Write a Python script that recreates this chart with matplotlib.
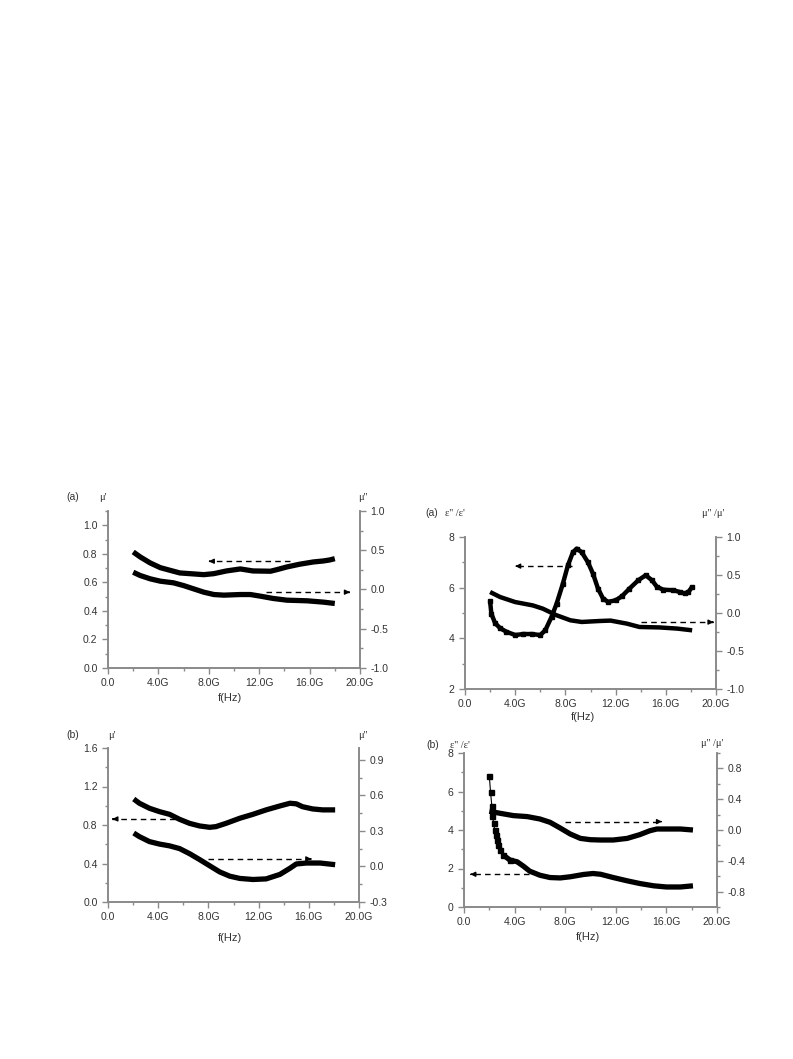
import matplotlib
matplotlib.use("Agg")
import matplotlib.pyplot as plt
from matplotlib.ticker import MultipleLocator, FuncFormatter, FixedLocator

plt.rcParams['font.family'] = ['Liberation Sans', 'DejaVu Sans']
plt.rcParams['lines.solid_joinstyle'] = 'round'
plt.rcParams['lines.solid_capstyle'] = 'butt'

# ---- data (frequency in GHz) ----
# top-left (a): mu' (left axis) and mu'' (right axis)
f_a_mu1 = [2.0, 2.56, 3.35, 4.15, 4.9, 5.7, 6.5, 7.6, 8.4, 9.4, 10.5, 11.5, 12.9, 13.4, 14.2, 15.2, 16.3, 17.1, 17.6, 18.0]
a_mu1 = [0.813, 0.778, 0.736, 0.703, 0.685, 0.666, 0.661, 0.654, 0.661, 0.68, 0.694, 0.68, 0.678, 0.689, 0.708, 0.727, 0.743, 0.75, 0.757, 0.766]
f_a_mu2 = [2.0, 2.56, 3.35, 4.15, 5.2, 6.0, 6.8, 7.6, 8.4, 9.2, 10.5, 11.3, 12.1, 13.1, 14.2, 15.8, 17.1, 18.0]
a_mu2 = [0.22, 0.178, 0.136, 0.106, 0.085, 0.05, 0.008, -0.034, -0.064, -0.072, -0.064, -0.064, -0.085, -0.114, -0.136, -0.144, -0.161, -0.178]

# top-right (a): eps''/eps' (left) and mu''/mu' (right)
f_a_eps = [2.0, 2.1, 2.4, 2.8, 3.3, 4.0, 4.65, 5.3, 6.0, 6.4, 6.9, 7.3, 7.8, 8.2, 8.6, 8.9, 9.3, 9.8, 10.2, 10.6,
           11.0, 11.4, 12.0, 12.5, 13.1, 13.8, 14.4, 14.9, 15.3, 15.8, 16.6, 17.1, 17.5, 17.8, 18.1]
a_eps = [5.46, 4.97, 4.6, 4.4, 4.26, 4.13, 4.17, 4.17, 4.13, 4.32, 4.85, 5.37, 6.16, 6.88, 7.4, 7.54, 7.4, 7.0, 6.55, 5.96,
         5.57, 5.44, 5.5, 5.66, 5.96, 6.29, 6.49, 6.29, 6.03, 5.92, 5.9, 5.83, 5.77, 5.83, 6.03]
f_a_tan = [2.0, 2.8, 4.0, 5.4, 6.2, 7.3, 8.4, 9.3, 10.75, 11.6, 12.9, 13.9, 15.5, 16.9, 18.1]
a_tan = [0.276, 0.21, 0.144, 0.10, 0.057, -0.03, -0.096, -0.118, -0.105, -0.10, -0.14, -0.184, -0.19, -0.205, -0.228]

# bottom-left (b): mu' (left) and mu'' (right)
f_b_mu1 = [2.05, 2.5, 3.3, 4.1, 4.9, 5.7, 6.5, 7.3, 8.1, 8.6, 9.4, 10.5, 11.55, 12.6, 13.7, 14.5, 15.0, 15.5, 16.3, 17.1, 18.1]
b_mu1 = [1.07, 1.026, 0.974, 0.939, 0.911, 0.859, 0.817, 0.79, 0.776, 0.783, 0.817, 0.87, 0.911, 0.957, 0.998, 1.026, 1.02, 0.99, 0.967, 0.957, 0.957]
f_b_mu2 = [2.05, 2.5, 3.3, 4.1, 4.9, 5.7, 6.5, 7.3, 8.1, 8.9, 9.7, 10.5, 11.55, 12.6, 13.7, 14.5, 15.0, 15.8, 16.9, 18.1]
b_mu2 = [0.282, 0.252, 0.21, 0.189, 0.174, 0.151, 0.108, 0.058, 0.006, -0.046, -0.082, -0.101, -0.11, -0.105, -0.067, -0.015, 0.021, 0.029, 0.029, 0.015]

# bottom-right (b): eps''/eps' (left) and mu''/mu' (right)
f_b_eps = [2.0, 2.1, 2.2, 2.25, 2.35, 2.43, 2.5, 2.6, 2.7, 2.85, 3.1, 3.65, 4.2, 4.7, 5.2, 6.0, 6.8, 7.6, 8.4, 9.45,
           10.2, 10.8, 11.8, 12.9, 13.9, 15.0, 16.0, 17.1, 18.1]
b_eps = [6.82, 5.95, 5.25, 4.73, 4.35, 4.0, 3.74, 3.5, 3.2, 2.96, 2.7, 2.43, 2.35, 2.12, 1.86, 1.65, 1.53, 1.51, 1.57, 1.69,
         1.74, 1.7, 1.53, 1.36, 1.22, 1.1, 1.04, 1.04, 1.1]
f_b_tan = [2.0, 2.85, 3.9, 5.0, 6.0, 6.8, 7.6, 8.4, 9.2, 10.0, 10.8, 11.8, 12.9, 13.9, 14.7, 15.25, 16.0, 17.1, 18.1]
b_tan = [0.243, 0.217, 0.187, 0.174, 0.143, 0.10, 0.026, -0.052, -0.109, -0.126, -0.13, -0.13, -0.109, -0.06, -0.009, 0.013, 0.013, 0.013, 0.0]

# dashed guide arrows: (x_start, x_end, y, which axis)
arrows_tl = [(14.45, 8.0, 0.748, 'L'), (12.55, 19.2, -0.034, 'R')]
arrows_tr = [(8.5, 4.0, 6.85, 'L'), (14.0, 19.8, -0.12, 'R')]
arrows_bl = [(5.3, 0.35, 0.863, 'L'), (8.0, 16.2, 0.064, 'R')]
arrows_br = [(5.1, 0.5, 1.7, 'L'), (8.0, 15.65, 0.109, 'R')]

W, H = 793, 1059
fig = plt.figure(figsize=(W / 100, H / 100), dpi=100)

SPINE = '#8a8a8a'
TXT = '#333333'
FS = 7.5


def box(l, r, t, b):
    return [l / W, 1 - b / H, (r - l) / W, (b - t) / H]


def fx(v, pos):
    return '0.0' if v == 0 else '%.1fG' % v


def style(ax):
    ax.spines['top'].set_visible(False)
    for s in ['left', 'right', 'bottom']:
        ax.spines[s].set_color(SPINE)
        ax.spines[s].set_linewidth(1.2)
    ax.tick_params(which='both', direction='out', colors=SPINE, labelcolor=TXT, labelsize=FS, width=1)
    ax.tick_params(which='major', length=4)
    ax.tick_params(which='minor', length=2.5)


def arrow(ax, ax2, spec):
    for x0, x1, y, side in spec:
        a = ax if side == 'L' else ax2
        a.plot([x0, x1], [y, y], color='black', lw=1, dashes=(4, 3))
        d = 0.3 if x1 > x0 else -0.3
        a.annotate('', xy=(x1, y), xytext=(x1 - d, y),
                   arrowprops=dict(arrowstyle='-|>', color='black', lw=1, mutation_scale=7))


def panel(rect, ylim1, yt1, ym1, fmt1, ylim2, yt2, ym2, fmt2):
    ax = fig.add_axes(rect)
    ax.patch.set_alpha(0)
    ax2 = ax.twinx()
    style(ax)
    style(ax2)
    ax.set_xlim(0, 20)
    ax.xaxis.set_major_locator(MultipleLocator(4))
    ax.xaxis.set_minor_locator(MultipleLocator(2))
    ax.xaxis.set_major_formatter(FuncFormatter(fx))
    ax.set_ylim(*ylim1)
    ax.yaxis.set_major_locator(FixedLocator(yt1))
    ax.yaxis.set_minor_locator(MultipleLocator(ym1))
    ax.yaxis.set_major_formatter(FuncFormatter(lambda v, p: fmt1 % v))
    ax2.set_ylim(*ylim2)
    ax2.yaxis.set_major_locator(FixedLocator(yt2))
    ax2.yaxis.set_minor_locator(MultipleLocator(ym2))
    ax2.yaxis.set_major_formatter(FuncFormatter(lambda v, p: (fmt2 % v).replace('-0.0', '0.0')))
    return ax, ax2


def txt(x, y, s, **kw):
    fig.text(x / W, 1 - y / H, s, ha='center', va='center', color=TXT, **kw)


GREEK = dict(family=['Liberation Serif', 'DejaVu Serif'], fontsize=7.5)

# ---- top-left ----
ax, ax2 = panel(box(108, 360, 511, 668), (0, 1.1), [0, 0.2, 0.4, 0.6, 0.8, 1.0], 0.1, '%.1f',
                (-1, 1), [-1, -0.5, 0, 0.5, 1], 0.25, '%.1f')
ax.plot(f_a_mu1, a_mu1, color='black', lw=3.8)
ax2.plot(f_a_mu2, a_mu2, color='black', lw=3.8)
arrow(ax, ax2, arrows_tl)
txt(73, 497, '(a)', fontsize=FS)
txt(103, 497, "\u03bc'", **GREEK)
txt(363, 497, "\u03bc''", **GREEK)
txt(230, 698, 'f(Hz)', fontsize=FS + 0.5)

# ---- top-right ----
ax, ax2 = panel(box(465, 716, 537, 689), (2, 8), [2, 4, 6, 8], 1, '%d',
                (-1, 1), [-1, -0.5, 0, 0.5, 1], 0.25, '%.1f')
ax.plot(f_a_eps, a_eps, color='black', lw=3.2, marker='s', ms=2.6)
ax2.plot(f_a_tan, a_tan, color='black', lw=3.2)
arrow(ax, ax2, arrows_tr)
txt(432, 513, '(a)', fontsize=FS)
txt(455, 513, "\u03b5'' /\u03b5'", **GREEK)
txt(713, 513, "\u03bc'' /\u03bc'", **GREEK)
txt(583, 717, 'f(Hz)', fontsize=FS + 0.5)

# ---- bottom-left ----
ax, ax2 = panel(box(108, 359, 748, 902), (0, 1.6), [0, 0.4, 0.8, 1.2, 1.6], 0.2, '%.1f',
                (-0.3, 1.0), [-0.3, 0, 0.3, 0.6, 0.9], 0.15, '%.1f')
ax.plot(f_b_mu1, b_mu1, color='black', lw=3.8)
ax2.plot(f_b_mu2, b_mu2, color='black', lw=3.8)
arrow(ax, ax2, arrows_bl)
txt(73, 735, '(b)', fontsize=FS)
txt(112, 735, "\u03bc'", **GREEK)
txt(363, 735, "\u03bc''", **GREEK)
txt(230, 938, 'f(Hz)', fontsize=FS + 0.5)

# ---- bottom-right ----
ax, ax2 = panel(box(464, 717, 753, 907), (0, 8), [0, 2, 4, 6, 8], 1, '%d',
                (-1, 1), [-0.8, -0.4, 0, 0.4, 0.8], 0.2, '%.1f')
ax.plot(f_b_eps[:12], b_eps[:12], color='black', lw=0.8, marker='s', ms=3.6)
ax.plot(f_b_eps[10:], b_eps[10:], color='black', lw=3.8)
ax2.plot(f_b_tan, b_tan, color='black', lw=3.8)
arrow(ax, ax2, arrows_br)
txt(433, 745, '(b)', fontsize=FS)
txt(460, 745, "\u03b5'' /\u03b5'", **GREEK)
txt(712, 743, "\u03bc'' /\u03bc'", **GREEK)
txt(588, 937, 'f(Hz)', fontsize=FS + 0.5)

fig.savefig('out.png', dpi=100)
